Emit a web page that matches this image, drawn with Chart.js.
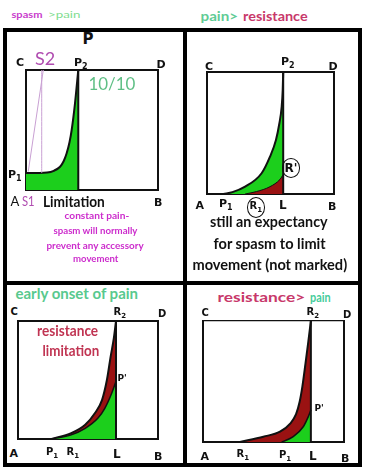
<!DOCTYPE html>
<html>
<head>
<meta charset="utf-8">
<script src="https://cdn.jsdelivr.net/npm/chart.js@4"></script>
<style>
  html, body { margin: 0; padding: 0; background: #fff; }
  #page { position: relative; width: 369px; height: 469px; overflow: hidden; background: #fff; }
  .rule { position: absolute; background: #000; }
  .lbl { position: absolute; white-space: nowrap; line-height: 1; }
  .hand { font-family: "DejaVu Sans", sans-serif; color: #111; }
  .txt { font-family: Lato, "Open Sans", sans-serif; font-weight: bold; }
  .circ { border: 1.5px solid #111; border-radius: 50%; padding: 3px 2px; }
</style>
</head>
<body>
<div id="page"></div>
<script>
// ---- data (x = range A..B, y = intensity 0..10) ----
// spasm > pain
const spasmPainX = [0, 1.0, 1.6, 2.1, 2.58, 2.85, 3.08, 3.3, 3.46, 3.71, 3.96];
const spasmPainY = [1.42, 1.42, 1.45, 1.6, 1.94, 2.4, 3.06, 4.0, 5.0, 7.2, 10];
const spasmS2X = [0.17, 1.31];
const spasmS2Y = [1.53, 10];
const spasmS1X = [1.19, 1.19];
const spasmS1Y = [1.42, 10];
const spasmLimit = 3.96;

// pain > resistance
const pain2X = [1.3, 2.0, 3.0, 4.3, 4.96, 5.43, 5.7, 5.88, 5.96, 6.0];
const pain2Y = [0, 0.15, 0.6, 1.7, 3.06, 4.43, 5.8, 7.15, 8.5, 10];
const res2X = [3.0, 3.9, 4.96, 5.75, 6.0];
const res2Y = [0, 0.2, 0.6, 1.2, 1.6];
const limit2 = 6.0;

// early onset of pain
const res3X = [2.4, 3.8, 4.8, 5.5, 6.0, 6.35, 6.62, 6.84, 7.0];
const res3Y = [0, 0.5, 1.2, 2.2, 3.3, 5.0, 7.0, 8.5, 10];
const pain3X = [2.4, 3.8, 4.8, 5.7, 6.2, 6.7, 7.0];
const pain3Y = [0, 0.35, 0.9, 1.75, 2.6, 3.9, 4.9];
const limit3 = 7.0;

// resistance > pain
const res4X = [2.62, 4.28, 5.46, 6.2, 6.6, 6.85, 7.05, 7.27, 7.47, 7.65];
const res4Y = [0, 0.44, 0.85, 1.54, 2.3, 3.3, 4.6, 6.5, 8.3, 10];
const pain4X = [5.58, 6.4, 7.11, 7.47, 7.65];
const pain4Y = [0, 0.44, 1.26, 2.1, 2.64];
const limit4 = 7.65;

const GREEN = '#1ccf1c';
const RED = '#9a1212';
const INK = '#111';

const page = document.getElementById('page');
const pts = (xs, ys) => xs.map((x, i) => ({ x: x, y: ys[i] }));

function rule(l, t, w, h) {
  const d = document.createElement('div');
  d.className = 'rule';
  Object.assign(d.style, { left: l + 'px', top: t + 'px', width: w + 'px', height: h + 'px' });
  page.appendChild(d);
}

function label(html, cx, cy, opts) {
  opts = opts || {};
  const d = document.createElement('div');
  d.className = 'lbl ' + (opts.cls || 'hand') + (opts.circle ? ' circ' : '');
  d.innerHTML = html;
  d.style.fontSize = (opts.size || 12) + 'px';
  if (opts.color) d.style.color = opts.color;
  if (opts.weight) d.style.fontWeight = opts.weight;
  page.appendChild(d);
  const w = d.offsetWidth, h = d.offsetHeight;
  const s = opts.width ? opts.width / w : 1;
  d.style.left = (cx - w / 2) + 'px';
  d.style.top = (cy - h / 2) + 'px';
  d.style.transform = 'scaleX(' + s + ')';
  return d;
}

function line(xs, ys, extra) {
  return Object.assign({
    data: pts(xs, ys),
    borderColor: INK,
    borderWidth: 2,
    fill: false,
    cubicInterpolationMode: 'monotone',
    pointRadius: 0
  }, extra || {});
}

function edgeAxis(pos, bw) {
  return {
    type: 'linear', position: pos, min: 0, max: 10,
    ticks: { display: false },
    grid: { display: false, drawTicks: false },
    border: { display: true, color: INK, width: bw || 2 }
  };
}

function panel(box, datasets, topWidth) {
  const pad = 4;
  const w = box[2] - box[0] + 2 * pad;
  const h = box[3] - box[1] + 2 * pad;
  const c = document.createElement('canvas');
  c.width = w; c.height = h;
  Object.assign(c.style, {
    position: 'absolute', left: (box[0] - pad) + 'px', top: (box[1] - pad) + 'px',
    width: w + 'px', height: h + 'px'
  });
  page.appendChild(c);
  new Chart(c, {
    type: 'line',
    data: { datasets: datasets },
    options: {
      responsive: false,
      animation: false,
      devicePixelRatio: 1,
      layout: { padding: pad },
      plugins: { legend: { display: false }, tooltip: { enabled: false } },
      scales: {
        x: edgeAxis('bottom'),
        y: edgeAxis('left'),
        x2: edgeAxis('top', topWidth),
        y2: edgeAxis('right')
      }
    }
  });
}

// frame
rule(3, 28, 359, 4);
rule(3, 28, 4, 439);
rule(183, 28, 4, 439);
rule(358, 28, 4, 439);
rule(3, 281, 359, 4);
rule(3, 463, 359, 4);

// panel 1
panel([26, 70, 158, 190], [
  line([spasmLimit, spasmLimit], [0, 10], { order: 0 }),
  line(spasmS2X, spasmS2Y, { borderColor: '#c9a0d3', borderWidth: 1, order: 0 }),
  line(spasmS1X, spasmS1Y, { borderColor: '#c9a0d3', borderWidth: 1, order: 0 }),
  line(spasmPainX, spasmPainY, { fill: 'origin', backgroundColor: GREEN, order: 1 })
]);

// panel 2
panel([207, 72, 334, 194], [
  line([limit2, limit2], [0, 10], { order: 0 }),
  line(res2X, res2Y, { fill: 'origin', backgroundColor: RED, borderWidth: 1, order: 1 }),
  line(pain2X, pain2Y, { fill: 'origin', backgroundColor: GREEN, order: 2 })
]);

// panel 3
panel([18, 321, 158, 439], [
  line([limit3, limit3], [0, 10], { order: 0 }),
  line(pain3X, pain3Y, { fill: 'origin', backgroundColor: GREEN, borderWidth: 1.5, order: 1 }),
  line(res3X, res3Y, { fill: 'origin', backgroundColor: RED, order: 2 })
]);

// panel 4
panel([203, 321, 344, 442], [
  line([limit4, limit4], [0, 10], { order: 0 }),
  line(pain4X, pain4Y, { fill: 'origin', backgroundColor: GREEN, borderWidth: 1.5, order: 1 }),
  line(res4X, res4Y, { fill: 'origin', backgroundColor: RED, order: 2 })
], 1.2);

// ---- titles ----
label('spasm', 27, 14, { cls: 'txt', size: 10, width: 31, color: '#c83ccc' });
label('&gt;pain', 64, 14, { cls: 'txt', size: 10, width: 32, color: '#7fdd8f', weight: 'normal' });
label('pain&gt;', 219, 16, { cls: 'txt', size: 14, width: 38, color: '#5fcc95' });
label('resistance', 275, 16, { cls: 'txt', size: 14, width: 65, color: '#c8386a' });
label('early onset of pain', 77, 293, { cls: 'txt', size: 15, width: 123, color: '#58c98e' });
label('resistance&gt;', 261, 297, { cls: 'txt', size: 14, width: 88, color: '#c8386a' });
label('pain', 320, 297, { cls: 'txt', size: 14, width: 21, color: '#45cc9a' });

// ---- panel 1 labels ----
label('P', 88, 39, { size: 15, weight: 'bold' });
label('C', 20, 62, { size: 11, weight: 'bold' });
label('S2', 45, 58, { cls: 'txt', size: 18, width: 20, color: '#b04cb0', weight: 'normal' });
label('P<sub style="font-size:8px">2</sub>', 81, 64, { size: 11, weight: 'bold' });
label('D', 161, 64, { size: 11, weight: 'bold' });
label('10/10', 112, 83, { cls: 'txt', size: 18, width: 47, color: '#5fbf85', weight: 'normal' });
label('P<sub style="font-size:8px">1</sub>', 15, 176, { size: 11, weight: 'bold' });
label('A', 15, 201, { cls: 'txt', size: 13, color: INK, weight: 'normal' });
label('S1', 28, 201, { cls: 'txt', size: 13, width: 13, color: '#b04cb0', weight: 'normal' });
label('Limitation', 74, 201, { cls: 'txt', size: 15, width: 62, color: INK });
label('B', 158, 202, { size: 11, weight: 'bold' });
label('constant pain-', 97, 215, { cls: 'txt', size: 10, width: 65, color: '#cc2ccc' });
label('spasm will normally', 95, 230, { cls: 'txt', size: 10, width: 84, color: '#cc2ccc' });
label('prevent any accessory', 95, 245, { cls: 'txt', size: 10, width: 97, color: '#cc2ccc' });
label('movement', 95, 258, { cls: 'txt', size: 10, width: 45, color: '#cc2ccc' });

// ---- panel 2 labels ----
label('C', 209, 66, { size: 11, weight: 'bold' });
label('P<sub style="font-size:8px">2</sub>', 288, 63, { size: 11, weight: 'bold' });
label('D', 333, 66, { size: 11, weight: 'bold' });
label('A', 200, 205, { size: 11, weight: 'bold' });
label('P<sub style="font-size:8px">1</sub>', 226, 205, { size: 11, weight: 'bold' });
label('R<sub style="font-size:7px">1</sub>', 256, 207, { size: 10, weight: 'bold', circle: true });
label('L', 283, 205, { size: 12, weight: 'bold' });
label('B', 332, 206, { size: 11, weight: 'bold' });
label("R'", 291, 168, { size: 12, weight: 'bold', circle: true });
label('still an expectancy', 269, 221, { cls: 'txt', size: 16, width: 118, color: INK });
label('for spasm to limit', 269, 243, { cls: 'txt', size: 16, width: 112, color: INK });
label('movement (not marked)', 270, 264, { cls: 'txt', size: 16, width: 155, color: INK });

// ---- panel 3 labels ----
label('C', 14, 312, { size: 10, weight: 'bold' });
label('R<sub style="font-size:7px">2</sub>', 120, 313, { size: 10, weight: 'bold' });
label('D', 162, 314, { size: 10, weight: 'bold' });
label('resistance', 67, 330, { cls: 'txt', size: 15, width: 61, color: '#c03452' });
label('limitation', 71, 350, { cls: 'txt', size: 15, width: 57, color: '#c03452' });
label("P'", 122, 378, { size: 9, weight: 'bold' });
label('A', 14, 453, { size: 11, weight: 'bold' });
label('P<sub style="font-size:7px">1</sub>', 52, 453, { size: 10, weight: 'bold' });
label('R<sub style="font-size:7px">1</sub>', 73, 453, { size: 10, weight: 'bold' });
label('L', 117, 454, { size: 12, weight: 'bold' });
label('B', 158, 456, { size: 11, weight: 'bold' });

// ---- panel 4 labels ----
label('C', 205, 313, { size: 10, weight: 'bold' });
label('R<sub style="font-size:7px">2</sub>', 313, 313, { size: 10, weight: 'bold' });
label('D', 347, 315, { size: 10, weight: 'bold' });
label("P'", 319, 408, { size: 9, weight: 'bold' });
label('A', 205, 456, { size: 11, weight: 'bold' });
label('R<sub style="font-size:7px">1</sub>', 243, 455, { size: 10, weight: 'bold' });
label('P<sub style="font-size:7px">1</sub>', 285, 456, { size: 10, weight: 'bold' });
label('L', 313, 456, { size: 12, weight: 'bold' });
label('B', 345, 458, { size: 11, weight: 'bold' });
</script>
</body>
</html>
